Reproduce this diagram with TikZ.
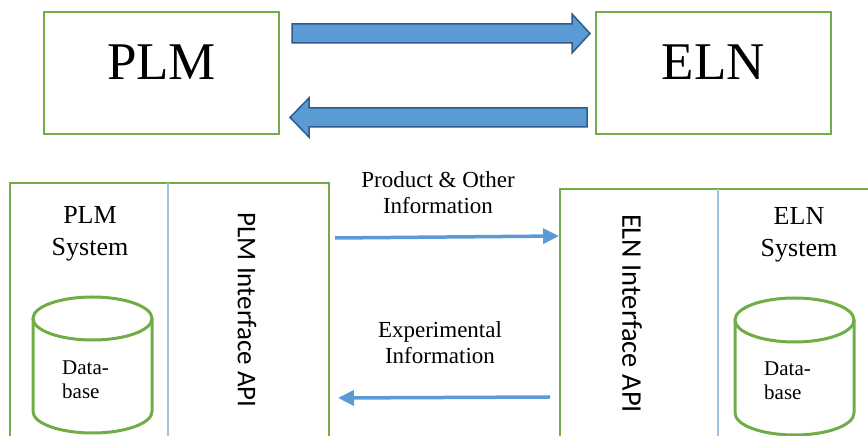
\documentclass[tikz,border=0pt]{standalone}
\usepackage{fontspec}
\setmainfont{Liberation Serif}
\newfontfamily\apifont{Carlito}
\usetikzlibrary{arrows.meta}
\definecolor{grn}{HTML}{70AD47}
\definecolor{blu}{HTML}{5B9BD5}
\definecolor{dblu}{HTML}{2E5C8A}
\definecolor{divc}{HTML}{9DC3E6}
\tikzset{
  topbox/.style={draw=grn, line width=2.2pt, minimum width=235pt, minimum height=122pt, inner sep=0pt},
  sysbox/.style={draw=grn, line width=2.6pt, inner sep=0pt},
  bigtxt/.style={font=\fontsize{53}{60}\selectfont, anchor=base, inner sep=0pt},
  systxt/.style={font=\fontsize{26}{32}\selectfont, align=center, inner sep=0pt},
  dbtxt/.style={font=\fontsize{21}{24}\selectfont, align=left, inner sep=0pt, anchor=west},
  apitxt/.style={font=\apifont\fontsize{27}{30}\selectfont, rotate=-90, inner sep=0pt},
  lbltxt/.style={font=\fontsize{23}{26}\selectfont, align=center, inner sep=0pt},
  blockarrow/.style={draw=dblu, fill=blu, line width=1.5pt, line join=miter},
  thinarrow/.style={draw=blu, line width=3.5pt, -{Triangle[length=16pt,width=15pt]}},
  divider/.style={draw=divc, line width=1.3pt},
  cyl/.style={draw=grn, line width=3pt, fill=white},
}
\begin{document}
\begin{tikzpicture}[x=1pt,y=1pt]
\path[use as bounding box] (0,0) rectangle (868,436);
\clip (0,0) rectangle (868,436);
% top boxes
\node[topbox] (plmbox) at (161.5,363) {};
\node[topbox] (elnbox) at (713.5,363) {};
\node[bigtxt] (plmtxt) at (161.5,356) {PLM};
\node[bigtxt] (elntxt) at (713.5,356) {ELN};
% block arrows
\draw[blockarrow] (292,412) -- (572,412) -- (572,422) -- (590,402.5) -- (572,383) -- (572,393) -- (292,393) -- cycle;
\draw[blockarrow] (587,328) -- (309,328) -- (309,338) -- (290,318.5) -- (309,299) -- (309,309) -- (587,309) -- cycle;
% bottom boxes
\node[sysbox, minimum width=319pt, minimum height=280pt] (plmsys) at (169.5,113) {};
\node[sysbox, minimum width=330pt, minimum height=280pt] (elnsys) at (725,107) {};
\draw[divider] (168,253) -- (168,-30);
\draw[divider] (718,247) -- (718,-30);
% system titles
\node[systxt] (plmsystxt) at (90,202) {PLM\\System};
\node[systxt] (elnsystxt) at (799,201) {ELN\\System};
% cylinders
\draw[cyl] (33,117.5) -- (33,24.5) arc[start angle=180, end angle=360, x radius=59.5pt, y radius=21.5pt] -- (152,117.5);
\draw[cyl] (92.5,117.5) ellipse[x radius=59.5pt, y radius=21.5pt];
\draw[cyl] (735,116) -- (735,23) arc[start angle=180, end angle=360, x radius=59.5pt, y radius=22pt] -- (854,116);
\draw[cyl] (794.5,116) ellipse[x radius=59.5pt, y radius=22pt];
\node[dbtxt] (plmdb) at (62,56) {Data-\\base};
\node[dbtxt] (elndb) at (764,55) {Data-\\base};
% API labels
\node[apitxt] (plmapi) at (247,126) {PLM Interface API};
\node[apitxt, font=\apifont\fontsize{28.5}{32}\selectfont] (elnapi) at (632,122.5) {ELN Interface API};
% thin arrows
\coordinate (a1s) at (335,198);
\coordinate (a1e) at (559,200);
\coordinate (a2s) at (550,39);
\coordinate (a2e) at (338,38);
\draw[thinarrow] (a1s) -- (a1e);
\draw[thinarrow] (a2s) -- (a2e);
\node[lbltxt] (lbl1) at (438,243) {Product \& Other\\Information};
\node[lbltxt] (lbl2) at (440,93) {Experimental\\Information};
\end{tikzpicture}
\end{document}
